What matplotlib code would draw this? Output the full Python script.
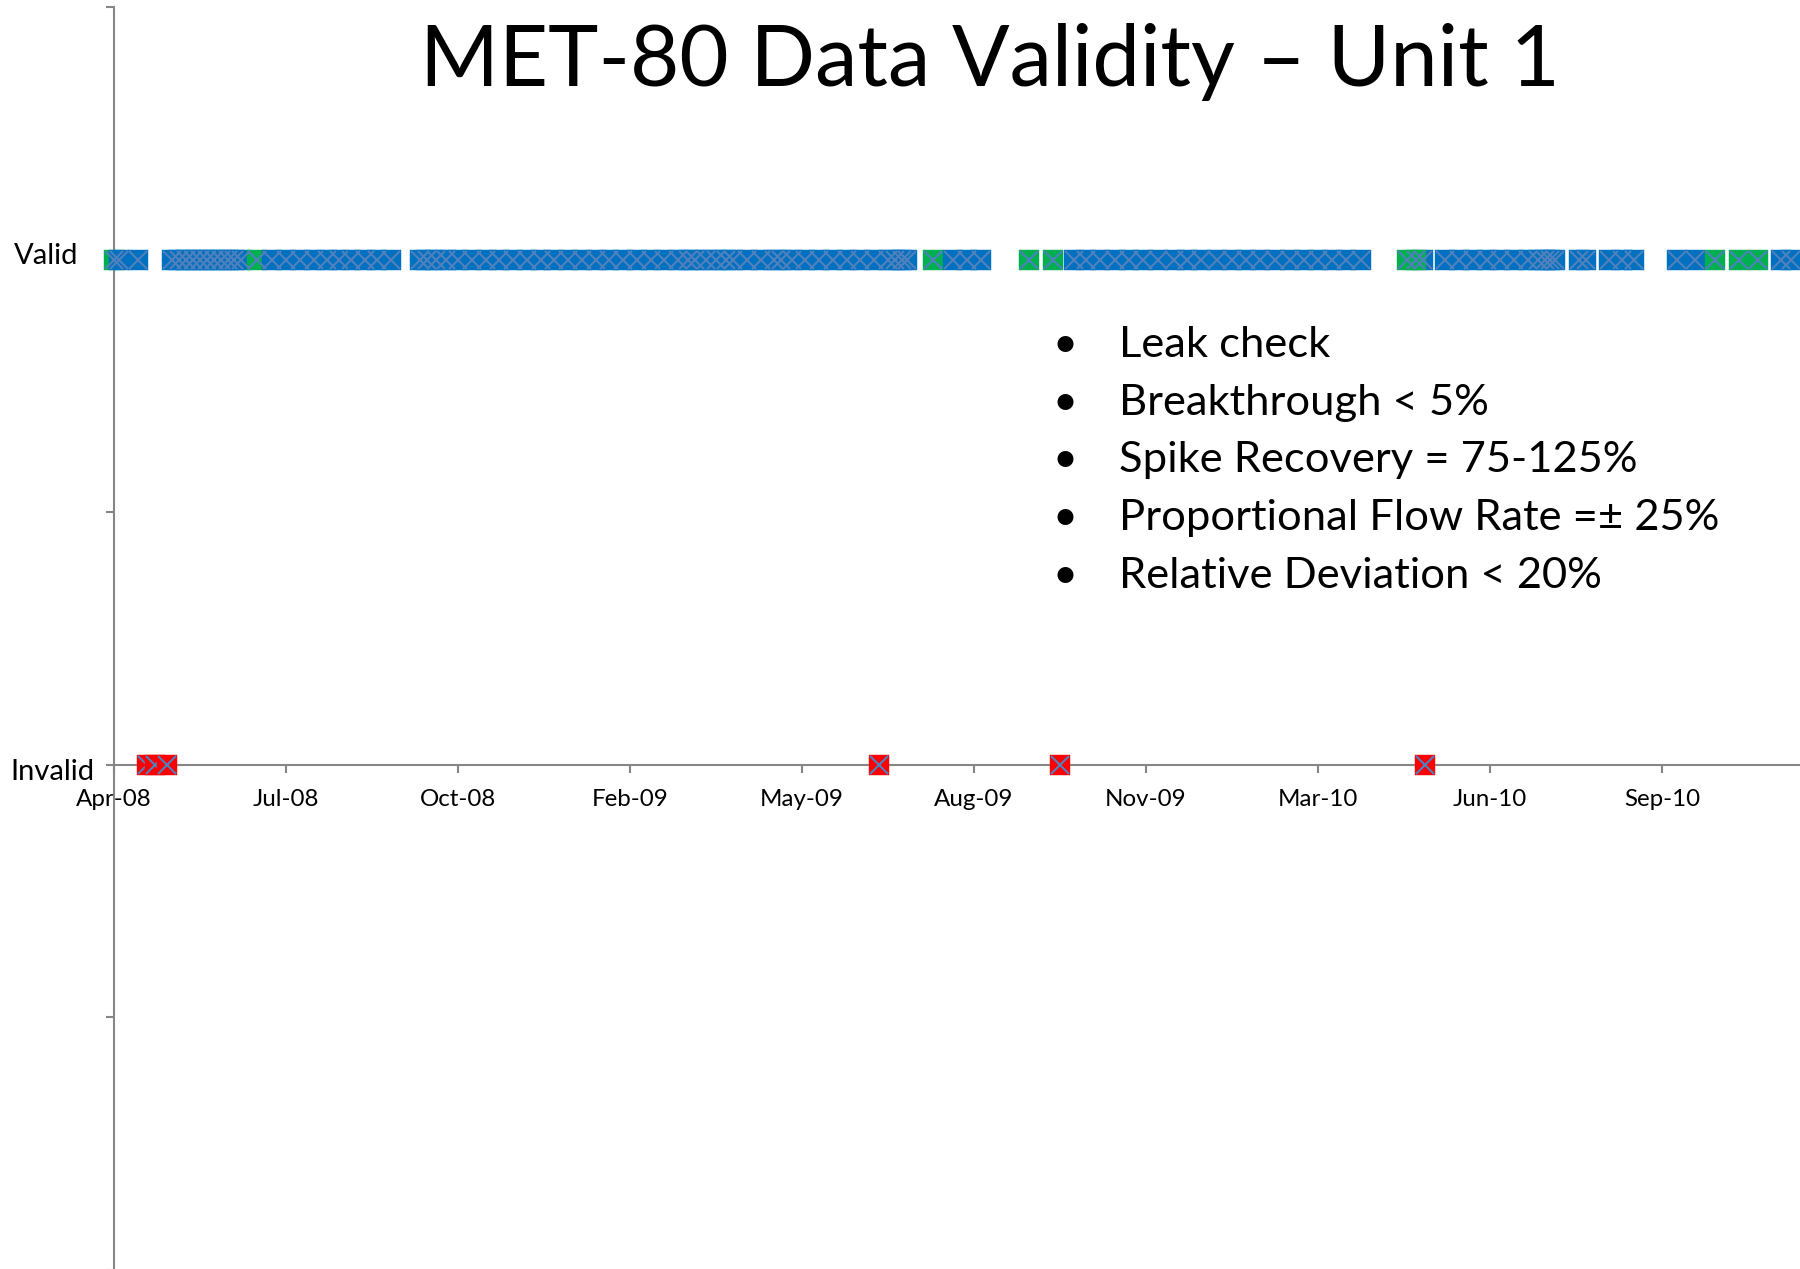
import matplotlib
matplotlib.use("Agg")
import matplotlib.pyplot as plt
import matplotlib.dates as mdates
import datetime as dt

plt.rcParams['font.family'] = ['Lato', 'DejaVu Sans']

# ---------------- data ----------------
title = "MET-80 Data Validity \u2013 Unit 1"
criteria = ["Leak check",
            "Breakthrough < 5%",
            "Spike Recovery = 75-125%",
            "Proportional Flow Rate =\u00b1 25%",
            "Relative Deviation < 20%"]
level_names = ["Invalid", "Valid"]
level_values = [0, 1]

# samples in drawing order; status: "valid" (blue), "qc" (green), "invalid" (red)
sample_dates = [
    "2008-04-08", "2008-04-11", "2008-04-22",
    "2008-04-27", "2008-05-02", "2008-05-09",
    "2008-05-12", "2008-05-16", "2008-05-20", "2008-05-24", "2008-05-28", "2008-06-01",
    "2008-06-05", "2008-06-09", "2008-06-13", "2008-06-17", "2008-06-21",
    "2008-06-30",
    "2008-07-09", "2008-07-17", "2008-07-25", "2008-08-02", "2008-08-10", "2008-08-17",
    "2008-08-24", "2008-09-01", "2008-09-08", "2008-09-16",
    "2008-10-03", "2008-10-07", "2008-10-12", "2008-10-18", "2008-10-25", "2008-11-02",
    "2008-11-10", "2008-11-18", "2008-11-26", "2008-12-04", "2008-12-12", "2008-12-20",
    "2008-12-28", "2009-01-05", "2009-01-13", "2009-01-21", "2009-01-29", "2009-02-06",
    "2009-02-14", "2009-02-22", "2009-03-02", "2009-03-08", "2009-03-12", "2009-03-18",
    "2009-03-24", "2009-03-30", "2009-04-03", "2009-04-11", "2009-04-19", "2009-04-27",
    "2009-05-01", "2009-05-07", "2009-05-15", "2009-05-23", "2009-05-31", "2009-06-08",
    "2009-06-16", "2009-06-24", "2009-07-02", "2009-07-06", "2009-07-10", "2009-07-13",
    "2009-06-27",
    "2009-07-28", "2009-08-09", "2009-08-17", "2009-08-25",
    "2009-09-22", "2009-10-06", "2009-10-10",
    "2009-10-18", "2009-10-25", "2009-11-02", "2009-11-11", "2009-11-19", "2009-11-27",
    "2009-12-06", "2009-12-15", "2009-12-23", "2009-12-31", "2010-01-09", "2010-01-18",
    "2010-01-26", "2010-02-03", "2010-02-12", "2010-02-21", "2010-03-01", "2010-03-09",
    "2010-03-17", "2010-03-25", "2010-04-03",
    "2010-05-10",
    "2010-05-09", "2010-04-30", "2010-05-05",
    "2010-05-22", "2010-05-30", "2010-06-07", "2010-06-15", "2010-06-23", "2010-07-01",
    "2010-07-09", "2010-07-15", "2010-07-19", "2010-07-22", "2010-07-25",
    "2010-08-08", "2010-08-12",
    "2010-08-25", "2010-09-02", "2010-09-09",
    "2010-10-04", "2010-10-14", "2010-10-26",
    "2010-11-09", "2010-11-20", "2010-12-03", "2010-12-09",
]
sample_status = (
    ["qc", "valid", "valid"]
    + ["invalid"] * 3
    + ["valid"] * 11
    + ["qc"]
    + ["valid"] * 10
    + ["valid"] * 42
    + ["invalid"]
    + ["qc", "valid", "valid", "valid"]
    + ["qc", "qc", "invalid"]
    + ["valid"] * 21
    + ["invalid"]
    + ["valid", "qc", "qc"]
    + ["valid"] * 11
    + ["valid"] * 2
    + ["valid"] * 3
    + ["valid", "valid", "qc"]
    + ["qc", "qc", "valid", "valid"]
)

axis_start = "2008-04-08"
tick_step_days = 100
n_labelled_ticks = 10
axis_span_days = 1000

# ---------------- style ----------------
fill_colors = {"valid": "#0070C0", "qc": "#00B050", "invalid": "#FF0000"}
cross_color = "#4F81BD"
axis_color = "#868686"
DPI = 100
W, H = 1800, 1269
SQ, XS, XW = 14.4, 12.5, 1.5

fig = plt.figure(figsize=(W / DPI, H / DPI), dpi=DPI)
left_px, right_px = 114, 114 + 1720
top_px, bottom_px = 7.5, 1270
ax = fig.add_axes([left_px / W, 1 - bottom_px / H,
                   (right_px - left_px) / W, (bottom_px - top_px) / H])

start = dt.datetime.strptime(axis_start, "%Y-%m-%d")
ax.set_xlim(start, start + dt.timedelta(days=axis_span_days))
ax.set_ylim(-1, 1.5)

status_y = {"valid": 1, "qc": 1, "invalid": 0}
points = [(dt.datetime.strptime(d, "%Y-%m-%d"), s) for d, s in zip(sample_dates, sample_status)]

# valid row: fills in order, then the crosses on top
valid_pts = [(x, s) for x, s in points if status_y[s] == 1]
for x, s in valid_pts:
    ax.plot([x], [1], ls="none", marker="s", ms=SQ, mfc=fill_colors[s],
            mec=fill_colors[s], mew=0.3, zorder=3, clip_on=False)
for x, s in valid_pts:
    ax.plot([x], [1], ls="none", marker="x", ms=XS, mec=cross_color,
            mew=XW, zorder=3.5, clip_on=False)

# invalid row: each marker drawn (fill + cross) in order
for x, s in points:
    if status_y[s] == 0:
        ax.plot([x], [0], ls="none", marker="s", ms=SQ, mfc=fill_colors[s],
                mec=fill_colors[s], mew=0.3, zorder=4, clip_on=False)
        ax.plot([x], [0], ls="none", marker="x", ms=XS, mec=cross_color,
                mew=XW, zorder=4, clip_on=False)

# axes styling
for sp in ["top", "right"]:
    ax.spines[sp].set_visible(False)
ax.spines["bottom"].set_position(("data", 0))
for sp in ["left", "bottom"]:
    ax.spines[sp].set_color(axis_color)
    ax.spines[sp].set_linewidth(1.5)

xt = [start + dt.timedelta(days=k * tick_step_days) for k in range(n_labelled_ticks)]
ax.set_xticks(xt)
ax.xaxis.set_major_formatter(mdates.DateFormatter("%b-%y"))
ax.set_yticks([-1, -0.5, 0, 0.5, 1, 1.5])
ax.set_yticklabels([])
ax.tick_params(axis="both", direction="out", length=6, width=1.5, color=axis_color)
ax.tick_params(axis="x", labelsize=17.4, pad=11, labelcolor="black")

# y level labels (text boxes)
fig.text(14 / W, 1 - 255.5 / H, level_names[1], fontsize=21, ha="left", va="center")
fig.text(10 / W, 1 - 771.5 / H, level_names[0], fontsize=21, ha="left", va="center")

# title
fig.text(990 / W, 1 - 62 / H, title, fontsize=61.3, ha="center", va="center")

# criteria bullets
y0, dy = 345, 57.7
for i, c in enumerate(criteria):
    yy = 1 - (y0 + i * dy) / H
    fig.text(1065 / W, yy, "\u2022", fontsize=31, ha="center", va="center")
    fig.text(1119 / W, yy, c, fontsize=31.3, ha="left", va="center")

fig.savefig("out.png", dpi=DPI)
